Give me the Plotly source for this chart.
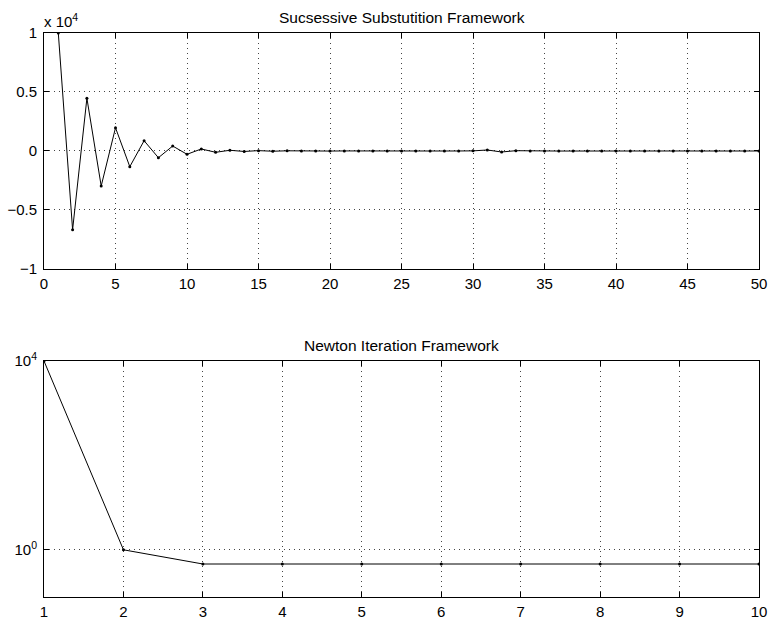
import plotly.graph_objects as go
from plotly.subplots import make_subplots

# Top panel: successive substitution residuals
ss_iter = list(range(1, 51))
ss_vals = [10000, -6670, 4470, -2970, 1970, -1330, 870, -570, 420, -280,
           170, -110, 60, -40, 30, -20, 15, -10, 8, -6,
           5, -4, 3, -3, 2, -2, 2, -2, 1, 10,
           85, -85, 25, -10, 5, -4, 3, -3, 2, -2,
           2, -2, 1, -1, 1, -1, 1, -1, 1, 0]
ss_ytickvals = [-10000, -5000, 0, 5000, 10000]
ss_yticktext = ["\u22121", "\u22120.5", "0", "0.5", "1"]
ss_xtickvals = [0, 5, 10, 15, 20, 25, 30, 35, 40, 45, 50]

# Bottom panel: Newton iteration residuals
nw_iter = [1, 2, 3, 4, 5, 6, 7, 8, 9, 10]
nw_vals = [10000, 1.0, 0.5, 0.5, 0.5, 0.5, 0.5, 0.5, 0.5, 0.5]
nw_ytickvals = [1, 10000]
nw_yticktext = ["10<sup>0</sup>", "10<sup>4</sup>"]

FONT = "Liberation Sans, Arial, Helvetica, sans-serif"
FS = 15

fig = make_subplots(rows=2, cols=1, vertical_spacing=0.163)

fig.add_trace(go.Scatter(x=ss_iter, y=ss_vals, mode="lines+markers",
                         line=dict(color="black", width=1),
                         marker=dict(color="black", size=3),
                         showlegend=False), row=1, col=1)
fig.add_trace(go.Scatter(x=nw_iter, y=nw_vals, mode="lines+markers",
                         line=dict(color="black", width=1),
                         marker=dict(color="black", size=3),
                         showlegend=False), row=2, col=1)

axis_common = dict(showline=True, linecolor="black", linewidth=1, mirror="ticks",
                   ticks="inside", ticklen=5, tickcolor="black",
                   showgrid=True, gridcolor="#444", griddash="1px,4px", gridwidth=1,
                   zeroline=False, automargin=False,
                   tickfont=dict(size=FS, color="black", family=FONT))

fig.update_xaxes(**axis_common, ticklabelstandoff=1)
fig.update_yaxes(**axis_common, ticklabelstandoff=3)

fig.update_xaxes(range=[0, 50], tickvals=ss_xtickvals, domain=[0, 1], row=1, col=1)
fig.update_yaxes(range=[-10000, 10000], tickvals=ss_ytickvals, ticktext=ss_yticktext,
                 domain=[0.5816, 1.0], row=1, col=1)
fig.update_xaxes(range=[1, 10], tickvals=nw_iter, domain=[0, 1], row=2, col=1)
fig.update_yaxes(type="log", range=[-1, 4], tickvals=nw_ytickvals, ticktext=nw_yticktext,
                 domain=[0, 0.4184], row=2, col=1)

fig.update_layout(
    width=768, height=620,
    margin=dict(l=44, r=9, t=33, b=23),
    paper_bgcolor="white", plot_bgcolor="white",
    font=dict(family=FONT, color="black", size=FS),
    annotations=[
        dict(text="Sucsessive Substutition Framework", xref="paper", yref="paper",
             x=0.5, y=1.0, yshift=5, xanchor="center", yanchor="bottom",
             showarrow=False, font=dict(size=15.5, family=FONT)),
        dict(text="Newton Iteration Framework", xref="paper", yref="paper",
             x=0.5, y=0.4184, yshift=5, xanchor="center", yanchor="bottom",
             showarrow=False, font=dict(size=15.5, family=FONT)),
        dict(text="x 10<sup>4</sup>", xref="paper", yref="paper",
             x=0, y=1.0, xshift=-2, yshift=1, xanchor="left", yanchor="bottom",
             showarrow=False, font=dict(size=FS, family=FONT)),
    ],
)

# remove the page's default body margin so the 768x620 figure fills the window exactly
fig.write_html(
    "out.html",
    config={"displayModeBar": False},
    post_script=("document.body.style.margin='0';"
                 "document.body.style.overflow='hidden';"
                 "document.documentElement.style.overflow='hidden';"),
)
